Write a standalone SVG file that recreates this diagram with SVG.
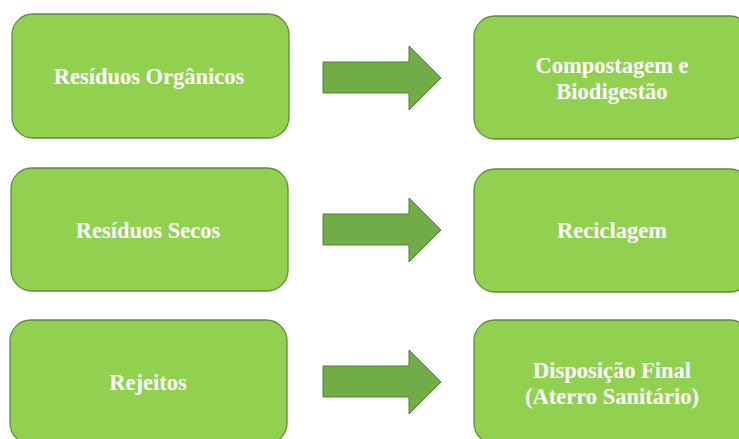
<svg xmlns="http://www.w3.org/2000/svg" width="739" height="439" viewBox="0 0 739 439">
<style>
.box{fill:#92D050;stroke:#5E8B3A;stroke-width:1.3}
.arr{fill:#70AD47;stroke:#507E32;stroke-width:1}
.t{font-family:"Liberation Serif","Times New Roman",serif;font-weight:bold;font-size:22.5px;fill:#FFFFFF;text-anchor:middle}
</style>
<rect width="739" height="439" fill="#FFFFFF"/>
<g id="n1"><rect class="box" x="12" y="14" width="277" height="124" rx="21"/><text class="t" x="149" y="84">Resíduos Orgânicos</text></g>
<g id="n2"><rect class="box" x="474" y="16" width="277" height="123" rx="21"/><text class="t" x="612" y="73">Compostagem e</text><text class="t" x="612" y="99">Biodigestão</text></g>
<g id="n3"><rect class="box" x="11" y="168" width="277" height="123" rx="21"/><text class="t" x="148" y="238">Resíduos Secos</text></g>
<g id="n4"><rect class="box" x="474" y="169" width="277" height="123" rx="21"/><text class="t" x="612" y="238">Reciclagem</text></g>
<g id="n5"><rect class="box" x="10" y="320" width="277" height="124" rx="21"/><text class="t" x="148" y="390">Rejeitos</text></g>
<g id="n6"><rect class="box" x="474" y="320" width="277" height="124" rx="21"/><text class="t" x="612" y="378">Disposição Final</text><text class="t" x="612" y="404">(Aterro Sanitário)</text></g>
<g id="connectors">
<polygon class="arr" points="323,62 409,62 409,46 441,78 409,110 409,93 323,93"/>
<polygon class="arr" points="323,214 409,214 409,198 441,230 409,262 409,245 323,245"/>
<polygon class="arr" points="323,366 409,366 409,350 441,382 409,414 409,397 323,397"/>
</g>
</svg>
